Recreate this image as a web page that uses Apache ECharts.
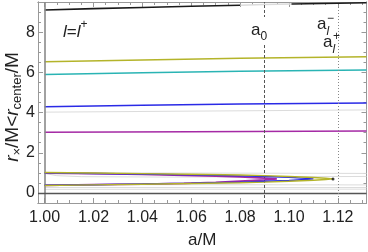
<!DOCTYPE html>
<html><head><meta charset="utf-8">
<script src="https://cdn.jsdelivr.net/npm/echarts@6/dist/echarts.min.js"></script>
<style>html,body{margin:0;padding:0;background:#fff}#c{width:368px;height:252px}</style>
</head><body><div id="c"></div>
<script>
const X_MIN = 0.9973, X_MAX = 1.1317, Y_MIN = -0.5, Y_MAX = 9.5;
const xMajorTicks = [1.00, 1.02, 1.04, 1.06, 1.08, 1.10, 1.12];
const xMinorTicks = [1.005, 1.010, 1.015, 1.025, 1.030, 1.035, 1.045, 1.050, 1.055, 1.065, 1.070, 1.075,
                     1.085, 1.090, 1.095, 1.105, 1.110, 1.115, 1.125, 1.130];
const yMajorTicks = [0, 2, 4, 6, 8];
const yMinorTicks = [0.5, 1, 1.5, 2.5, 3, 3.5, 4.5, 5, 5.5, 6.5, 7, 7.5, 8.5, 9];
const a0 = 1.0886, aLminus = 1.1153, aLplus = 1.1175;

const blackTopA = [[1.0, 9.10], [1.02, 9.17], [1.04, 9.23], [1.06, 9.29], [1.08, 9.34]];
const greyTopGap = [[1.08, 9.34], [1.09, 9.37], [1.101, 9.40]];
const blackTopB = [[1.101, 9.40], [1.12, 9.44], [1.1317, 9.46]];
const oliveHigh = [[1.0, 6.53], [1.04, 6.62], [1.08, 6.70], [1.1317, 6.78]];
const tealHigh = [[1.0, 5.89], [1.04, 5.98], [1.08, 6.05], [1.1317, 6.12]];
const blueHigh = [[1.0, 4.29], [1.04, 4.36], [1.08, 4.42], [1.1317, 4.48]];
const greyHigh = [[1.0, 4.02], [1.1317, 4.13]];
const purpleHigh = [[1.0, 3.02], [1.06, 3.05], [1.1317, 3.08]];

const oliveLoop = [[1.0, 1.02], [1.02, 0.99], [1.04, 0.96], [1.06, 0.93], [1.08, 0.89], [1.09, 0.86], [1.10, 0.82],
  [1.11, 0.77], [1.115, 0.73], [1.118, 0.70], [1.115, 0.67], [1.11, 0.63], [1.10, 0.58], [1.09, 0.54],
  [1.08, 0.51], [1.06, 0.47], [1.04, 0.43], [1.02, 0.40], [1.0, 0.37]];
const blueLoop = [[1.0, 1.00], [1.02, 0.97], [1.04, 0.94], [1.06, 0.90], [1.08, 0.85], [1.09, 0.82], [1.10, 0.78],
  [1.105, 0.74], [1.11, 0.70], [1.105, 0.66], [1.10, 0.62], [1.09, 0.58], [1.08, 0.54], [1.06, 0.49],
  [1.04, 0.45], [1.02, 0.41], [1.0, 0.38]];
const purpleLoop = [[1.0, 0.99], [1.02, 0.96], [1.04, 0.92], [1.057, 0.88], [1.07, 0.84], [1.08, 0.80], [1.09, 0.74],
  [1.095, 0.70], [1.09, 0.65], [1.08, 0.59], [1.07, 0.53], [1.057, 0.48], [1.04, 0.44], [1.02, 0.41], [1.0, 0.38]];
const tipPoint = [[1.118, 0.70]];

const greyLow = [
  [[1.0, 0.97], [1.005, 0.86], [1.015, 0.81], [1.05, 0.79], [1.1317, 0.82]],
  [[1.0, 1.00], [1.06, 0.99], [1.1317, 0.97]],
  [[1.0, 0.42], [1.1317, 0.40]],
  [[1.0, 0.27], [1.1317, 0.27]],
  [[1.0, 0.18], [1.1317, 0.19]]
];

const FONT = 'Liberation Sans, Arial, sans-serif';
const frameColor = '#999999';

function lineSeries(data, color, width, z) {
  return { type: 'line', data: data, xAxisIndex: 0, yAxisIndex: 0, showSymbol: false, symbol: 'none',
    lineStyle: { color: color, width: width }, z: z, silent: true, animation: false };
}

const series = [];
greyLow.forEach(g => series.push(lineSeries(g, '#dcdcdc', 1, 2)));
series.push(lineSeries(greyHigh, '#dcdcdc', 1, 2));
series.push(lineSeries(greyTopGap, '#dcdcdc', 1.5, 2));
series.push(lineSeries(blackTopA, '#1a1a1a', 1.6, 3));
series.push(lineSeries(blackTopB, '#1a1a1a', 1.6, 3));
series.push(lineSeries(oliveHigh, '#b4b42a', 1.5, 3));
series.push(lineSeries(tealHigh, '#2ab4b4', 1.5, 3));
series.push(lineSeries(blueHigh, '#2a2ae6', 1.5, 3));
series.push(lineSeries(purpleHigh, '#a52aa5', 1.5, 3));
series.push(lineSeries(purpleLoop, '#a52aa5', 1.8, 4));
series.push(lineSeries(blueLoop, '#2a2ae6', 1.4, 5));
series.push(lineSeries(oliveLoop, '#b4b42a', 1.4, 6));
series.push({ type: 'scatter', data: tipPoint, symbolSize: 3, itemStyle: { color: '#111' }, z: 7, silent: true, animation: false });
series.push({
  type: 'line', data: [], xAxisIndex: 0, yAxisIndex: 0, silent: true, animation: false,
  markLine: {
    symbol: 'none', silent: true, animation: false, label: { show: false },
    data: [
      { xAxis: 1.0, lineStyle: { color: '#8a8a8a', width: 1.6, type: 'solid' } },
      { yAxis: 0, lineStyle: { color: '#555555', width: 1.3, type: 'solid' } },
      { xAxis: a0, lineStyle: { color: '#555555', width: 1, type: [3, 2] } },
      { xAxis: aLminus, lineStyle: { color: '#888888', width: 1, type: [1, 2] } },
      { xAxis: aLplus, lineStyle: { color: '#888888', width: 1, type: [1, 2] } }
    ]
  }
});

function xAx(pos, ticks, len, labels) {
  return { type: 'value', position: pos, min: X_MIN, max: X_MAX, gridIndex: 0,
    axisLine: { show: true, onZero: false, lineStyle: { color: frameColor, width: 1 } },
    axisTick: { show: true, inside: true, length: len, customValues: ticks, lineStyle: { color: frameColor } },
    axisLabel: labels ? { show: true, customValues: ticks, margin: 7, color: '#222', fontSize: 16, fontFamily: FONT,
      formatter: v => v.toFixed(2) } : { show: false },
    splitLine: { show: false } };
}
function yAx(pos, ticks, len, labels) {
  return { type: 'value', position: pos, min: Y_MIN, max: Y_MAX, gridIndex: 0,
    axisLine: { show: true, onZero: false, lineStyle: { color: frameColor, width: 1 } },
    axisTick: { show: true, inside: true, length: len, customValues: ticks, lineStyle: { color: frameColor } },
    axisLabel: labels ? { show: true, customValues: ticks, margin: 3, color: '#222', fontSize: 16, fontFamily: FONT } : { show: false },
    splitLine: { show: false } };
}

const xAxes = [xAx('bottom', xMajorTicks, 5, true), xAx('bottom', xMinorTicks, 3, false),
               xAx('top', xMajorTicks, 5, false), xAx('top', xMinorTicks, 3, false)];
xAxes[0].name = 'a/M';
xAxes[0].nameLocation = 'middle';
xAxes[0].nameGap = 29;
xAxes[0].nameMoveOverlap = false;
xAxes[0].nameTextStyle = { fontSize: 17, fontFamily: FONT, color: '#222' };

const yAxes = [yAx('left', yMajorTicks, 5, true), yAx('left', yMinorTicks, 3, false),
               yAx('right', yMajorTicks, 5, false), yAx('right', yMinorTicks, 3, false)];

const yTitleRich = {
  n: { fontSize: 19, fontFamily: FONT, fill: '#222', lineHeight: 22, verticalAlign: 'middle' },
  i: { fontSize: 19, fontFamily: FONT, fontStyle: 'italic', fill: '#222', lineHeight: 22, verticalAlign: 'middle' },
  sb: { fontSize: 13, fontFamily: FONT, fill: '#222', lineHeight: 22, verticalAlign: 'bottom' }
};

const richBase = {
  n: { fontSize: 17, fontFamily: FONT, fill: '#222', lineHeight: 26, verticalAlign: 'middle' },
  i: { fontSize: 17, fontFamily: FONT, fontStyle: 'italic', fill: '#222', lineHeight: 26, verticalAlign: 'middle' },
  sb: { fontSize: 12, fontFamily: FONT, fontStyle: 'italic', fill: '#222', lineHeight: 26, verticalAlign: 'bottom' },
  sb0: { fontSize: 12, fontFamily: FONT, fill: '#222', lineHeight: 26, verticalAlign: 'bottom' },
  sp: { fontSize: 12, fontFamily: FONT, fill: '#222', lineHeight: 26, verticalAlign: 'top' }
};

const chart = echarts.init(document.getElementById('c'), null, { renderer: 'canvas' });
chart.setOption({
  animation: false,
  backgroundColor: '#ffffff',
  grid: { left: 38, right: 1.5, top: 2, bottom: 49, containLabel: false, outerBoundsMode: 'none' },
  xAxis: xAxes,
  yAxis: yAxes,
  series: series,
  graphic: [
    { type: 'text', x: 12.5, y: 107, rotation: Math.PI / 2, z: 10,
      style: { text: '{i|r}{sb|×}{n|/M<}{i|r}{sb|center}{n|/M}', rich: yTitleRich, align: 'center', verticalAlign: 'middle' } },
    { type: 'text', left: 63, top: 19, z: 10, style: { text: '{i|l}{n|=}{i|l}{sp|+}', rich: richBase } },
    { type: 'text', left: 251, top: 17, z: 10, style: { text: '{n|a}{sb0|0}', rich: richBase, backgroundColor: '#fff' } },
    { type: 'text', left: 317, top: 16, z: 10, style: { text: '{n|a}{sb|l}', rich: richBase } },
    { type: 'text', left: 327, top: 13, z: 10, style: { text: '−', font: '12px ' + FONT, fill: '#222' } },
    { type: 'text', left: 323, top: 34, z: 10, style: { text: '{n|a}{sb|l}', rich: richBase } },
    { type: 'text', left: 333, top: 31, z: 10, style: { text: '+', font: '12px ' + FONT, fill: '#222' } }
  ]
});
</script></body></html>
